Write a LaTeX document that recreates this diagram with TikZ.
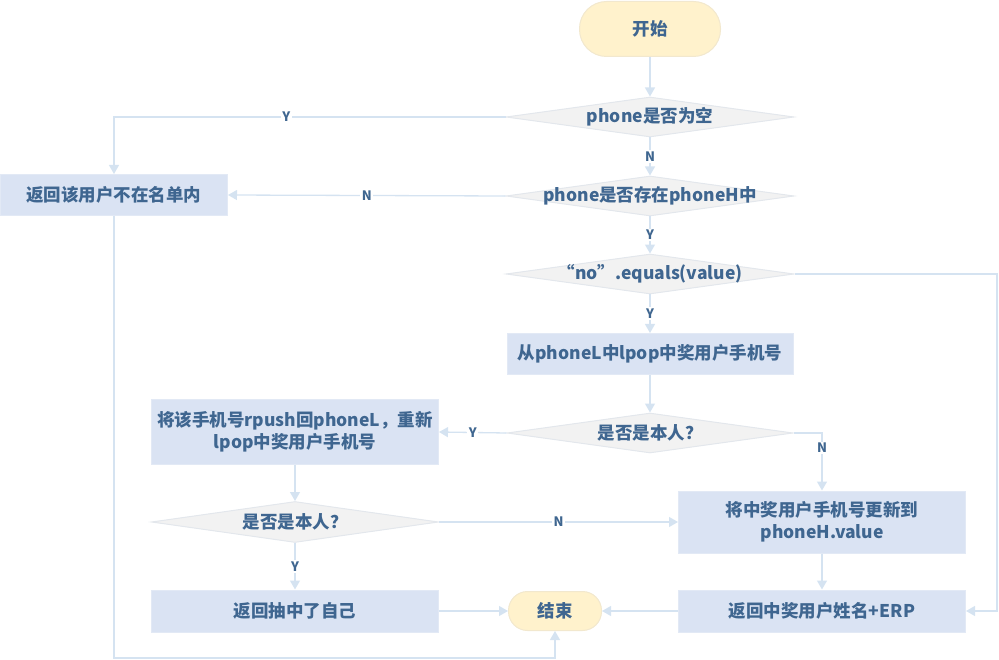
\documentclass[tikz,border=0pt]{standalone}
\usepackage{fontspec}
\setmainfont{Noto Sans CJK SC}
\usetikzlibrary{arrows.meta,shapes.geometric}
\definecolor{flowink}{HTML}{3F6690}
\definecolor{flowline}{HTML}{D5E3F1}
\definecolor{boxfill}{HTML}{DAE3F3}
\definecolor{boxedge}{HTML}{E2E9F5}
\definecolor{testfill}{HTML}{F2F2F2}
\definecolor{testedge}{HTML}{E3E7EC}
\definecolor{pillfill}{HTML}{FFF2CC}
\definecolor{pilledge}{HTML}{F2E8CE}

\begin{document}
\begin{tikzpicture}[
  x=1pt,
  y=-1pt,
  every node/.style={font=\bfseries\fontsize{17.5}{22}\selectfont, text=flowink, inner sep=1pt},
  proc/.style={draw=boxedge, fill=boxfill, line width=1pt, minimum width=287pt, align=center},
  test/.style={diamond, draw=testedge, fill=testfill, line width=1pt, inner sep=0pt,
    minimum width=288pt, minimum height=40pt},
  term/.style={draw=pilledge, fill=pillfill, line width=1pt},
  flow/.style={flowline, line width=1.3pt, -{Triangle[length=9pt,width=10pt]}},
  yn/.style={font=\bfseries\fontsize{13}{15}\selectfont, fill=white, inner sep=1.5pt}
]
  \useasboundingbox (0,0) rectangle (999,660);

  % ---- the main column ------------------------------------------------
  \node[term, rounded corners=27pt, minimum width=141pt, minimum height=55pt]
    (start) at (650,29) {开始};
  \node[test, label={center:phone是否为空}] (empty) at (650,117) {};
  \node[test, label={center:phone是否存在phoneH中}] (inH) at (650,196) {};
  \node[test, label={center:“no”.equals(value)}] (isNo) at (650,274) {};
  \node[proc, minimum width=286pt, minimum height=41pt] (pop) at (650,354)
    {从phoneL中lpop中奖用户手机号};
  \node[test, minimum width=286pt, label={center:是否是本人？}] (self1) at (650,433) {};

  % ---- the left side ---------------------------------------------------
  \node[proc, minimum width=227pt, minimum height=41pt] (notIn) at (114,195)
    {返回该用户不在名单内};
  \node[proc, minimum height=65pt] (repush) at (295,432)
    {将该手机号rpush回phoneL，重新\\lpop中奖用户手机号};
  \node[test, minimum width=287pt, minimum height=41pt, label={center:是否是本人？}]
    (self2) at (295,522) {};
  \node[proc, minimum height=42pt] (ownself) at (295,611) {返回抽中了自己};

  % ---- the right side and the end ---------------------------------------
  \node[proc, minimum height=62pt] (update) at (822,522)
    {将中奖用户手机号更新到\\phoneH.value};
  \node[proc, minimum height=42pt] (winner) at (822,611) {返回中奖用户姓名+ERP};
  \node[term, rounded corners=19pt, minimum width=93pt, minimum height=39pt]
    (stop) at (555,611) {结束};

  \coordinate (railR) at (997,0);
  \coordinate (railB) at (0,658);

  % ---- connectors -----------------------------------------------------
  \draw[flow] (start) -- (empty);
  \draw[flow] (empty.west) -| node[yn, pos=0.28] {Y} (notIn.north);
  \draw[flow] (empty) -- node[yn] {N} (inH);
  \draw[flow] (inH.west) -- node[yn] {N} (notIn.east);
  \draw[flow] (inH) -- node[yn] {Y} (isNo);
  \draw[flow] (isNo.east) -- (isNo.east -| railR) |- (winner.east);
  \draw[flow] (isNo) -- node[yn] {Y} (pop);
  \draw[flow] (pop) -- (self1);
  \draw[flow] (self1.west) -- node[yn] {Y} (repush.east);
  \draw[flow] (self1.east) -| node[yn, pos=0.63] {N} (update.north);
  \draw[flow] (repush) -- (self2);
  \draw[flow] (self2.east) -- node[yn] {N} (update.west);
  \draw[flow] (self2) -- node[yn] {Y} (ownself);
  \draw[flow] (update) -- (winner);
  \draw[flow] (ownself) -- (stop);
  \draw[flow] (winner) -- (stop);
  \draw[flow] (notIn.south) -- (notIn.south |- railB) -| (stop.south);
\end{tikzpicture}
\end{document}
